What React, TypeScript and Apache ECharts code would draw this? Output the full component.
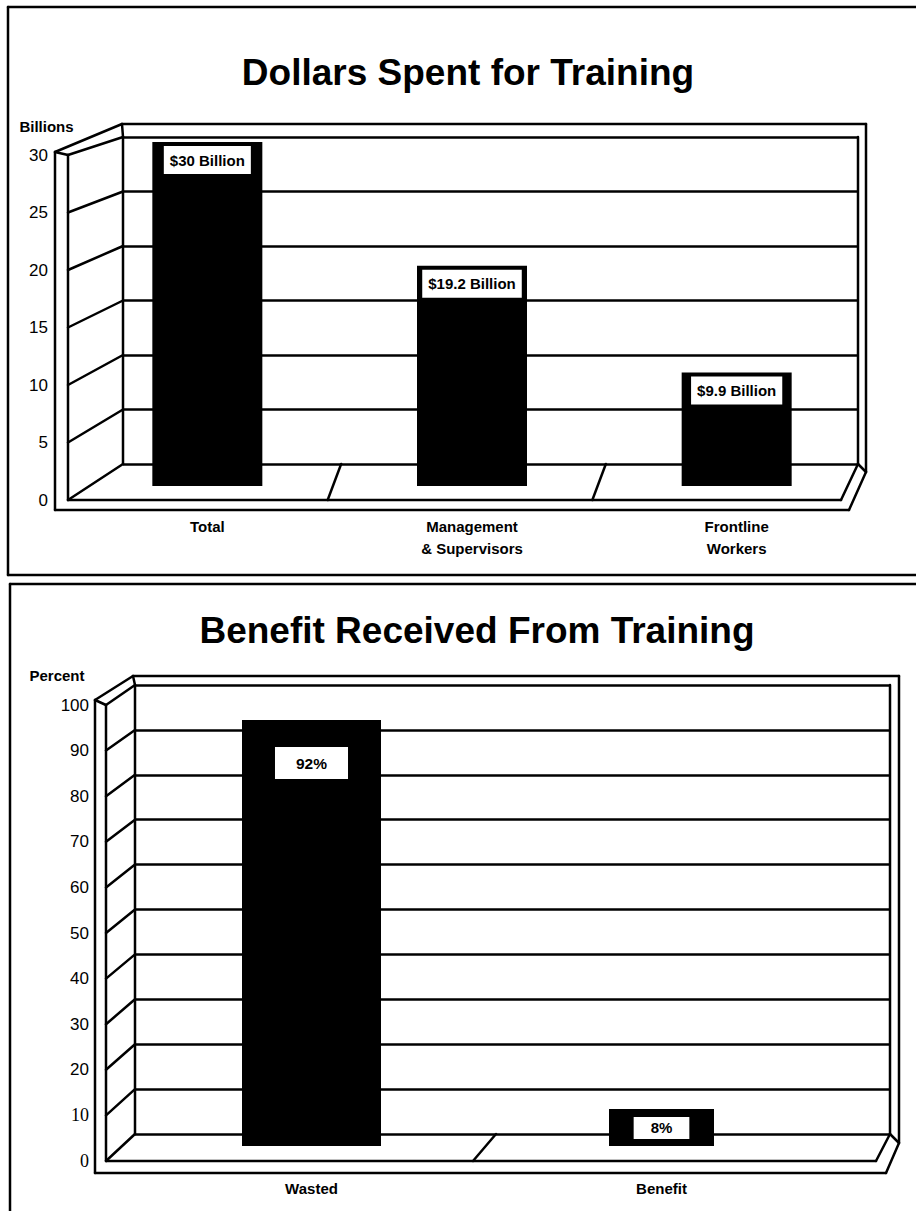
import React, { useEffect, useRef } from "react";
import * as echarts from "echarts";

// Dollars spent for training, in billions
const spendCategories = ["Total", "Management\n& Supervisors", "Frontline\nWorkers"];
const spendValues = [30, 19.2, 9.9];
const spendValueLabels = ["$30 Billion", "$19.2 Billion", "$9.9 Billion"];
const spendAxisMax = 30;
const spendAxisStep = 5;

// Benefit received from training, in percent
const benefitCategories = ["Wasted", "Benefit"];
const benefitValues = [92, 8];
const benefitValueLabels = ["92%", "8%"];
const benefitAxisMax = 100;
const benefitAxisStep = 10;

const SANS = '"Liberation Sans", Arial, Helvetica, sans-serif';
const SERIF = '"Liberation Serif", "Times New Roman", serif';
const INK = "#000";
const LW = 2.5;

// Box geometry of each pseudo-3D panel (back wall, front edge, bar plane, wall thickness)
const spendFrame = {
  back: { l: 123, t: 137, r: 858, b: 464 },
  front: { l: 68, t: 155, r: 841, b: 500 },
  plot: { l: 75, t: 142, r: 869, b: 486 },
  outer: { l: 55, wallTop: 152, backL: 122, t: 124, r: 866, corner: 472, b: 510, floorR: 849 },
  divider: { back: 1.5, front: -12 },
};
const benefitFrame = {
  back: { l: 135, t: 685, r: 890, b: 1134 },
  front: { l: 106, t: 705, r: 876, b: 1161 },
  plot: { l: 136.5, t: 683, r: 836.5, b: 1146 },
  outer: { l: 95, wallTop: 700, backL: 133, t: 676, r: 899, corner: 1143, b: 1173, floorR: 886 },
  divider: { back: 9.5, front: -13.5 },
};

type Rect = { l: number; t: number; r: number; b: number };
const gridOf = (r: Rect) => ({ left: r.l, top: r.t, width: r.r - r.l, height: r.b - r.t });

const hiddenCat = (gridIndex: number, data: string[]) => ({
  type: "category",
  gridIndex,
  data,
  show: false,
});

const backAxis = (gridIndex: number, max: number, step: number) => ({
  type: "value",
  gridIndex,
  min: 0,
  max,
  interval: step,
  axisLabel: { show: false },
  axisLine: { show: false },
  axisTick: { show: false },
  splitLine: { show: true, lineStyle: { color: INK, width: LW } },
});

const frontAxis = (gridIndex: number, max: number, step: number, margin: number, formatter?: any, rich?: any) => ({
  type: "value",
  gridIndex,
  min: 0,
  max,
  interval: step,
  axisLabel: {
    show: true,
    margin,
    fontSize: 17,
    color: INK,
    fontFamily: SANS,
    ...(formatter ? { formatter } : {}),
    ...(rich ? { rich } : {}),
  },
  axisLine: { show: false },
  axisTick: { show: false },
  splitLine: { show: false },
});

const plotAxis = (gridIndex: number, max: number) => ({
  type: "value",
  gridIndex,
  min: 0,
  max,
  show: false,
  splitLine: { show: false },
});

const categoryLabels = (gridIndex: number, data: string[], margin: number, lineHeight: number) => ({
  type: "category",
  gridIndex,
  data,
  axisLine: { show: false },
  axisTick: { show: false },
  splitLine: { show: false },
  axisLabel: {
    interval: 0,
    margin,
    fontSize: 15,
    fontWeight: "bold",
    color: INK,
    fontFamily: SANS,
    lineHeight,
  },
});

const valueLabel = (texts: string[], distance: number, padding: number[], fontSize: number) => ({
  show: true,
  position: "insideTop",
  distance,
  formatter: (p: any) => texts[p.dataIndex],
  backgroundColor: "#fff",
  padding,
  color: INK,
  fontFamily: SANS,
  fontWeight: "bold",
  fontSize,
  lineHeight: 16,
});

function buildOption() {
  return {
    animation: false,
    backgroundColor: "#fff",
    textStyle: { fontFamily: SANS },
    grid: [
      gridOf(spendFrame.back),
      gridOf(spendFrame.front),
      gridOf(spendFrame.plot),
      gridOf(benefitFrame.back),
      gridOf(benefitFrame.front),
      gridOf(benefitFrame.plot),
    ],
    xAxis: [
      hiddenCat(0, spendCategories),
      hiddenCat(1, spendCategories),
      categoryLabels(2, spendCategories, 29, 22),
      hiddenCat(3, benefitCategories),
      hiddenCat(4, benefitCategories),
      categoryLabels(5, benefitCategories, 33, 18),
      hiddenCat(5, benefitCategories),
    ],
    yAxis: [
      backAxis(0, spendAxisMax, spendAxisStep),
      frontAxis(1, spendAxisMax, spendAxisStep, 20),
      plotAxis(2, spendAxisMax),
      backAxis(3, benefitAxisMax, benefitAxisStep),
      frontAxis(
        4,
        benefitAxisMax,
        benefitAxisStep,
        17,
        (v: number) => (v <= 10 ? `{serif|${v}}` : `${v}`),
        { serif: { fontFamily: SERIF, fontSize: 18, color: INK } }
      ),
      plotAxis(5, benefitAxisMax),
    ],
    series: [
      {
        type: "bar",
        xAxisIndex: 2,
        yAxisIndex: 2,
        data: spendValues,
        barWidth: 110,
        itemStyle: { color: INK },
        label: valueLabel(spendValueLabels, 4, [6, 6], 15),
      },
      {
        type: "bar",
        xAxisIndex: 5,
        yAxisIndex: 5,
        data: benefitValues.map((v, i) => (i === 0 ? v : "-")),
        barWidth: 139,
        itemStyle: { color: INK },
        label: valueLabel(benefitValueLabels, 27, [8, 21], 15.5),
      },
      {
        type: "bar",
        xAxisIndex: 6,
        yAxisIndex: 5,
        data: benefitValues.map((v, i) => (i === 1 ? v : "-")),
        barWidth: 105,
        itemStyle: { color: INK },
        label: valueLabel(benefitValueLabels, 8, [3, 17], 15),
      },
    ],
  };
}

function segment(x1: number, y1: number, x2: number, y2: number, width = LW) {
  return {
    type: "line",
    silent: true,
    z: 1,
    shape: { x1, y1, x2, y2 },
    style: { stroke: INK, lineWidth: width, lineCap: "round" },
  };
}

function label(text: string, x: number, y: number, font: string) {
  return {
    type: "text",
    silent: true,
    z: 3,
    x,
    y,
    style: { text, font, fill: INK, textAlign: "center", textVerticalAlign: "middle" },
  };
}

// Walls, floor and depth lines of one panel, placed through the axes' own scales
function frameElements(
  chart: any,
  f: typeof spendFrame,
  backY: number,
  frontY: number,
  plotX: number,
  max: number,
  step: number,
  count: number
) {
  const B = f.back;
  const F = f.front;
  const O = f.outer;
  const els: any[] = [];
  // back wall sides and its thickness
  els.push(segment(B.l, B.t, B.l, B.b));
  els.push(segment(B.r, B.t, B.r, B.b));
  els.push(segment(O.backL, O.t, O.r, O.t));
  els.push(segment(O.r, O.t, O.r, O.corner));
  els.push(segment(B.r, B.b, O.r, O.corner));
  els.push(segment(O.backL, O.t, B.l, B.t));
  // left wall
  els.push(segment(O.l, O.wallTop, O.backL, O.t));
  els.push(segment(O.l, O.wallTop, O.l, O.b));
  els.push(segment(O.l, O.wallTop, F.l, F.t));
  els.push(segment(F.l, F.t, F.l, F.b));
  for (let v = 0; v <= max; v += step) {
    const yf = chart.convertToPixel({ yAxisIndex: frontY }, v);
    const yb = chart.convertToPixel({ yAxisIndex: backY }, v);
    els.push(segment(F.l, yf, B.l, yb));
  }
  // floor
  els.push(segment(F.l, F.b, F.r, F.b));
  els.push(segment(F.r, F.b, B.r, B.b));
  els.push(segment(O.l, O.b, O.floorR, O.b));
  els.push(segment(O.floorR, O.b, O.r, O.corner));
  // floor dividers between categories
  for (let i = 1; i < count; i++) {
    const c0 = chart.convertToPixel({ xAxisIndex: plotX }, i - 1);
    const c1 = chart.convertToPixel({ xAxisIndex: plotX }, i);
    const mid = (c0 + c1) / 2;
    els.push(segment(mid + f.divider.back, B.b, mid + f.divider.front, F.b));
  }
  return els;
}

export default function App() {
  const ref = useRef<HTMLDivElement | null>(null);

  useEffect(() => {
    if (!ref.current) return;
    const chart = echarts.init(ref.current, undefined, { renderer: "svg" });
    chart.setOption(buildOption() as any);

    const titleFont = `bold 37px ${SANS}`;
    const unitFont = `bold 15px ${SANS}`;
    const graphics: any[] = [
      // panel borders
      segment(8, 7, 916, 7),
      segment(8, 7, 8, 575),
      segment(8, 575, 916, 575),
      segment(10, 584, 916, 584),
      segment(10, 584, 10, 1211),
      label("Dollars Spent for Training", 468, 72, titleFont),
      label("Billions", 46.5, 126, unitFont),
      label("Benefit Received From Training", 477, 630, titleFont),
      label("Percent", 57, 675, unitFont),
      ...frameElements(chart, spendFrame, 0, 1, 2, spendAxisMax, spendAxisStep, spendCategories.length),
      ...frameElements(chart, benefitFrame, 3, 4, 5, benefitAxisMax, benefitAxisStep, benefitCategories.length),
    ];
    chart.setOption({ graphic: { elements: graphics } } as any);

    return () => {
      chart.dispose();
    };
  }, []);

  return (
    <div
      ref={ref}
      style={{ position: "absolute", left: 0, top: 0, width: 916, height: 1211, background: "#fff" }}
    />
  );
}
